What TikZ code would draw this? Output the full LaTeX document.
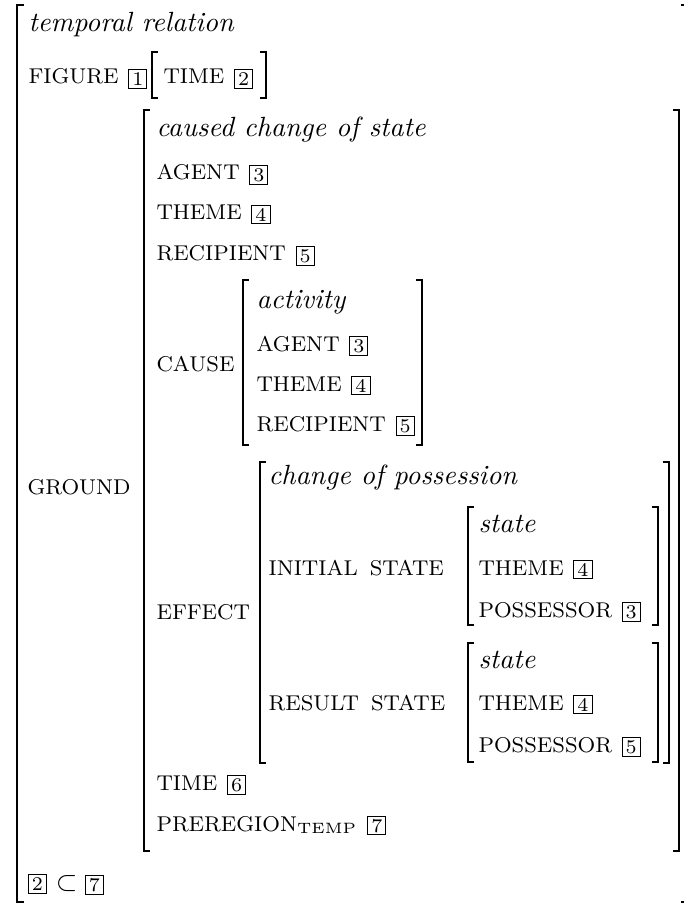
\documentclass[tikz,border=0pt]{standalone}
\usepackage{tikz}
\usetikzlibrary{positioning}
\tikzset{
  brak/.style={black, line width=0.8pt},
  attr/.style={font=\fontsize{7.7pt}{9pt}\selectfont, anchor=base west},
  typ/.style={font=\itshape, anchor=base west},
  tag/.style={draw, line width=0.3pt, font=\scriptsize, inner sep=0pt,
    minimum width=6.5pt, minimum height=6.7pt, text depth=0pt}}

\begin{document}
\begin{tikzpicture}[x=0.36pt,y=0.36pt]
\tikzstyle{every node}+=[inner sep=0pt]
\useasboundingbox (0,0) rectangle (683,-905);
% outer matrix
\draw [brak] (24,-5) -- (17,-5) -- (17,-902) -- (24,-902);
\draw [brak, overlay] (681,-5) -- (690,-5) -- (690,-902) -- (681,-902);
\node [typ] (trel) at (28,-32) {temporal relation};
\node [attr] (fig) at (28,-84) {FIGURE};
\node [tag, right=3.3pt of fig.base east, anchor=base west, yshift=-0.4pt] (t1) {1};
\draw [brak] (158,-52) -- (152,-52) -- (152,-98) -- (158,-98);
\node [attr] (ftime) at (163,-84) {TIME};
\node [tag, right=3.3pt of ftime.base east, anchor=base west, yshift=-0.4pt] (t2) {2};
\draw [brak] (260,-52) -- (266,-52) -- (266,-98) -- (260,-98);
% ground
\node [attr] (grnd) at (27,-494) {GROUND};
\draw [brak] (150,-110) -- (144,-110) -- (144,-851) -- (150,-851);
\draw [brak] (673,-110) -- (679,-110) -- (679,-851) -- (673,-851);
\node [typ] (ccs) at (156,-137) {caused change of state};
\node [attr] (agA) at (156,-180) {AGENT};
\node [tag, right=3.3pt of agA.base east, anchor=base west, yshift=-0.4pt] (t3a) {3};
\node [attr] (thA) at (156,-220) {THEME};
\node [tag, right=3.3pt of thA.base east, anchor=base west, yshift=-0.4pt] (t4a) {4};
\node [attr] (rcA) at (156,-261) {RECIPIENT};
\node [tag, right=3.3pt of rcA.base east, anchor=base west, yshift=-0.4pt] (t5a) {5};
% cause
\node [attr] (cause) at (156,-371) {CAUSE};
\draw [brak] (249,-280) -- (243,-280) -- (243,-445) -- (249,-445);
\draw [brak] (416,-280) -- (422,-280) -- (422,-445) -- (416,-445);
\node [typ] (act) at (256,-309) {activity};
\node [attr] (agB) at (256,-351) {AGENT};
\node [tag, right=3.3pt of agB.base east, anchor=base west, yshift=-0.4pt] (t3b) {3};
\node [attr] (thB) at (256,-391) {THEME};
\node [tag, right=3.3pt of thB.base east, anchor=base west, yshift=-0.4pt] (t4b) {4};
\node [attr] (rcB) at (256,-431) {RECIPIENT};
\node [tag, right=3.3pt of rcB.base east, anchor=base west, yshift=-0.4pt] (t5b) {5};
% effect
\node [attr] (eff) at (156,-619) {EFFECT};
\draw [brak] (266,-462) -- (260,-462) -- (260,-763) -- (266,-763);
\draw [brak] (663,-462) -- (669,-462) -- (669,-763) -- (663,-763);
\node [typ] (cop) at (268,-484) {change of possession};
\node [attr] (ini) at (268,-575) {INITIAL\hspace{1.6pt} STATE};
\draw [brak] (474,-507) -- (468,-507) -- (468,-625) -- (474,-625);
\draw [brak] (652,-507) -- (658,-507) -- (658,-625) -- (652,-625);
\node [typ] (stA) at (478,-532) {state};
\node [attr] (thC) at (478,-575) {THEME};
\node [tag, right=3.3pt of thC.base east, anchor=base west, yshift=-0.4pt] (t4c) {4};
\node [attr] (poA) at (478,-617) {POSSESSOR};
\node [tag, right=3.3pt of poA.base east, anchor=base west, yshift=-0.4pt] (t3c) {3};
\node [attr] (res) at (268,-710) {RESULT\hspace{1.6pt} STATE};
\draw [brak] (474,-643) -- (468,-643) -- (468,-762) -- (474,-762);
\draw [brak] (652,-643) -- (658,-643) -- (658,-762) -- (652,-762);
\node [typ] (stB) at (478,-668) {state};
\node [attr] (thD) at (478,-710) {THEME};
\node [tag, right=3.3pt of thD.base east, anchor=base west, yshift=-0.4pt] (t4d) {4};
\node [attr] (poB) at (478,-752) {POSSESSOR};
\node [tag, right=3.3pt of poB.base east, anchor=base west, yshift=-0.4pt] (t5c) {5};
% time and preregion
\node [attr] (gtime) at (156,-790) {TIME};
\node [tag, right=3.3pt of gtime.base east, anchor=base west, yshift=-0.4pt] (t6) {6};
\node [attr] (preg) at (156,-831) {PREREGION\textsubscript{TEMP}};
\node [tag, right=3.3pt of preg.base east, anchor=base west, yshift=-0.4pt] (t7) {7};
% constraint
\node [tag, anchor=base west, yshift=-0.4pt] (c2) at (28,-889) {2};
\node [right=3pt of c2.base east, anchor=base west] (subs) {$\subset$};
\node [tag, right=2.5pt of subs.base east, anchor=base west, yshift=-0.4pt] (c7) {7};
\end{tikzpicture}
\end{document}
